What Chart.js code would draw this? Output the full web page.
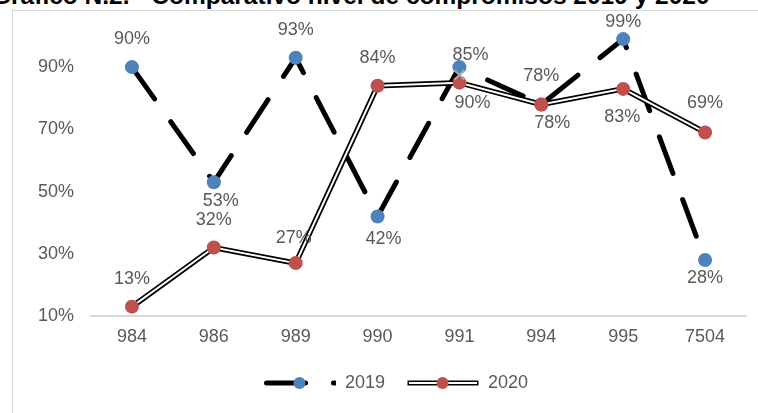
<!DOCTYPE html>
<html>
<head>
<meta charset="utf-8">
<script src="https://cdn.jsdelivr.net/npm/chart.js@4.4.1/dist/chart.umd.min.js"></script>
<style>
    html, body { margin: 0; padding: 0; background: #fff; overflow: hidden; }
    #wrap { position: relative; width: 758px; height: 413px; overflow: hidden; }
    #frame { position: absolute; left: 12px; top: 10px; right: -5px; bottom: -5px;
             border-left: 1px solid #d9d9d9; border-top: 1px solid #d9d9d9; }
    #title { position: absolute; left: -8px; top: -16px; white-space: nowrap; color: #000;
             font: bold 24.5px "Liberation Sans", Arial, sans-serif; line-height: 24px; }
    #chart { position: absolute; left: 0; top: 0; }
</style>
</head>
<body>
<div id="wrap">
    <div id="frame"></div>
    <div id="title">Gráfico N.2. - Comparativo nivel de compromisos 2019 y 2020</div>
    <canvas id="chart" width="758" height="413"></canvas>
</div>
<script>
// Values
const categories = ['984', '986', '989', '990', '991', '994', '995', '7504'];
const values2019 = [0.90, 0.53, 0.93, 0.42, 0.90, 0.78, 0.99, 0.28];
const values2020 = [0.13, 0.32, 0.27, 0.84, 0.85, 0.78, 0.83, 0.69];
// stray grey "x" marker sitting at 991 in the original
const extraMarker = [null, null, null, null, 0.875, null, null, null];
const yTickValues = [0.1, 0.3, 0.5, 0.7, 0.9];

// label placement: 't' above the point, 'b' below; nudges are [dx, dy] in px
const labelSide2019 = ['t', 'b', 't', 'b', 'b', 't', 't', 'b'];
const labelSide2020 = ['t', 't', 't', 't', 't', 'b', 'b', 't'];
const labelNudge2019 = [[0, 0], [7, 0], [0, 0], [6, 4], [13, 17], [0, 0], [0, 0], [0, -1]];
const labelNudge2020 = [[0, 0], [0, 0], [-2, 3], [0, 0], [11, 0], [11, 0], [-1, 9], [0, -1]];

const BLUE = '#4F81BD';
const RED = '#C0504D';
const GREY_TEXT = '#595959';
const FONT = '"Liberation Sans", Arial, sans-serif';
const dash2019 = [39, 28];

const pct = (v) => Math.round(v * 100) + '%';

function legendSymbol(kind) {
    const c = document.createElement('canvas');
    c.width = 72;
    c.height = 16;
    const g = c.getContext('2d');
    const y = 8;
    if (kind === 'dash') {
        g.strokeStyle = '#000';
        g.lineWidth = 5;
        g.lineCap = 'round';
        g.setLineDash(dash2019);
        g.beginPath();
        g.moveTo(2.5, y);
        g.lineTo(70.5, y);
        g.stroke();
        g.setLineDash([]);
        g.fillStyle = BLUE;
    } else {
        g.strokeStyle = '#000';
        g.lineWidth = 5;
        g.beginPath();
        g.moveTo(0.5, y);
        g.lineTo(71.5, y);
        g.stroke();
        g.strokeStyle = '#fff';
        g.lineWidth = 2;
        g.beginPath();
        g.moveTo(2, y);
        g.lineTo(70, y);
        g.stroke();
        g.fillStyle = RED;
    }
    g.beginPath();
    g.arc(35.5, y, 6, 0, Math.PI * 2);
    g.fill();
    return c;
}

// draws the percentage labels next to each point
const pointLabels = {
    id: 'pointLabels',
    afterDatasetsDraw(chart) {
        const ctx = chart.ctx;
        const groups = [
            { index: 0, values: values2019, side: labelSide2019, nudge: labelNudge2019 },
            { index: 2, values: values2020, side: labelSide2020, nudge: labelNudge2020 }
        ];
        ctx.save();
        ctx.font = '18px ' + FONT;
        ctx.fillStyle = GREY_TEXT;
        ctx.textAlign = 'center';
        ctx.textBaseline = 'middle';
        groups.forEach((grp) => {
            const meta = chart.getDatasetMeta(grp.index);
            meta.data.forEach((pt, i) => {
                const [dx, dy] = grp.nudge[i];
                let y = pt.y + (grp.side[i] === 't' ? -28 : 19) + dy;
                y = Math.max(y, 22); // Excel keeps labels inside the chart box
                ctx.fillText(pct(grp.values[i]), pt.x + dx, y);
            });
        });
        ctx.restore();
    }
};

// the legend in the original sits a little right of the canvas centre
const legendNudge = {
    id: 'legendNudge',
    afterLayout(chart) {
        if (chart.legend) {
            chart.legend.left += 10;
        }
    }
};

const chart = new Chart(document.getElementById('chart'), {
    type: 'line',
    data: {
        labels: categories,
        datasets: [
            {
                label: '2019',
                data: values2019,
                borderColor: '#000',
                borderWidth: 5,
                borderDash: dash2019,
                borderCapStyle: 'round',
                pointRadius: 7,
                pointBackgroundColor: BLUE,
                pointBorderColor: BLUE,
                pointBorderWidth: 0,
                tension: 0,
                clip: false,
                order: 3
            },
            {
                label: '2020 outline',
                data: values2020,
                borderColor: '#000',
                borderWidth: 5.5,
                pointRadius: 0,
                tension: 0,
                clip: false,
                order: 2
            },
            {
                label: '2020',
                data: values2020,
                borderColor: '#fff',
                borderWidth: 2,
                pointRadius: 7,
                pointBackgroundColor: RED,
                pointBorderColor: RED,
                pointBorderWidth: 0,
                tension: 0,
                clip: false,
                order: 1
            },
            {
                label: 'x',
                data: extraMarker,
                showLine: false,
                pointStyle: 'crossRot',
                pointRadius: 7,
                borderColor: '#a6a6a6',
                backgroundColor: '#a6a6a6',
                pointBorderColor: '#a6a6a6',
                pointBorderWidth: 2,
                clip: false,
                order: 0
            }
        ]
    },
    options: {
        responsive: false,
        animation: false,
        events: [],
        layout: {
            padding: { left: 36, right: 12, top: 36, bottom: 11 }
        },
        scales: {
            x: {
                type: 'category',
                offset: true,
                grid: { display: false, drawTicks: false },
                border: { display: true, color: '#d9d9d9', width: 2 },
                ticks: {
                    color: GREY_TEXT,
                    font: { family: FONT, size: 18 },
                    padding: 10,
                    maxRotation: 0,
                    autoSkip: false
                },
                afterFit(scale) { scale.height = 36; }
            },
            y: {
                min: 0.1,
                max: 1.0,
                grid: { display: false, drawTicks: false },
                border: { display: false },
                ticks: {
                    color: GREY_TEXT,
                    font: { family: FONT, size: 18 },
                    padding: 17,
                    callback: (v) => pct(v)
                },
                afterBuildTicks(scale) {
                    scale.ticks = yTickValues.map((v) => ({ value: v }));
                },
                afterFit(scale) { scale.width = 55; }
            }
        },
        plugins: {
            tooltip: { enabled: false },
            legend: {
                position: 'bottom',
                labels: {
                    usePointStyle: true,
                    pointStyleWidth: 72,
                    padding: 22,
                    color: GREY_TEXT,
                    font: { family: FONT, size: 18 },
                    generateLabels: () => [
                        { text: '2019', pointStyle: legendSymbol('dash'), datasetIndex: 0,
                          fontColor: GREY_TEXT, lineWidth: 0, strokeStyle: 'transparent', fillStyle: 'transparent', hidden: false },
                        { text: '2020', pointStyle: legendSymbol('double'), datasetIndex: 2,
                          fontColor: GREY_TEXT, lineWidth: 0, strokeStyle: 'transparent', fillStyle: 'transparent', hidden: false }
                    ]
                }
            }
        }
    },
    plugins: [pointLabels, legendNudge]
});
</script>
</body>
</html>
